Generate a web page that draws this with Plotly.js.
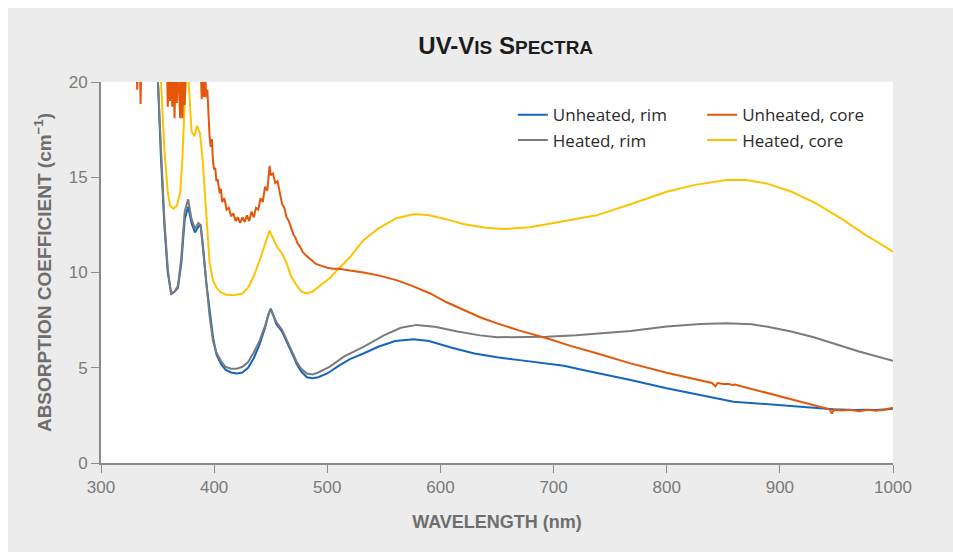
<!DOCTYPE html>
<html>
<head>
<meta charset="utf-8">
<script src="https://cdn.plot.ly/plotly-3.0.1.min.js"></script>
<style>html,body{margin:0;padding:0;background:#fff;}#chart{width:953px;height:552px;}</style>
</head>
<body>
<div id="chart"></div>
<script>
// Unheated, rim (blue)
const wlUnheatedRim = [345,350,353,356,359,362,365,368,371,374,377,380,383,386,388,390,393,396,399,402,406,410,415,420,425,430,435,440,445,448,450,452,455,460,465,470,473,477,482,487,492,500,510,520,532,545,560,576,590,610,630,650,670,690,709,725,741,768,800,830,859,947,955,965,975,985,995,1000];
const absUnheatedRim = [25,20.5,16,12.5,10,8.9,9.0,9.2,10.5,12.8,13.45,12.6,12.1,12.4,12.5,11.5,9.5,7.9,6.6,5.7,5.2,4.9,4.75,4.7,4.75,5.0,5.5,6.2,7.1,7.8,8.1,7.8,7.3,6.9,6.2,5.6,5.2,4.8,4.5,4.45,4.5,4.7,5.1,5.45,5.75,6.1,6.4,6.5,6.4,6.05,5.75,5.55,5.4,5.25,5.1,4.9,4.7,4.36,3.92,3.55,3.22,2.82,2.8,2.78,2.8,2.78,2.82,2.85];

// Heated, rim (gray)
const wlHeatedRim = [345,350,353,356,359,362,365,368,371,374,377,380,383,386,388,390,393,396,399,402,406,410,415,420,425,430,435,440,445,448,450,452,455,460,465,470,473,477,482,487,492,502,515,532,550,565,579,595,615,635,650,670,694,720,741,768,800,830,853,875,888,910,930,947,970,1000];
const absHeatedRim = [25,20.5,16.5,12.8,10.2,8.85,9.0,9.3,10.8,13.2,13.85,12.8,12.3,12.6,12.5,11.3,9.2,7.7,6.4,5.8,5.35,5.05,4.95,4.95,5.05,5.3,5.8,6.4,7.2,7.8,8.05,7.8,7.4,7.0,6.3,5.7,5.3,4.95,4.7,4.65,4.75,5.05,5.6,6.1,6.7,7.1,7.25,7.15,6.9,6.7,6.6,6.6,6.63,6.7,6.8,6.93,7.16,7.3,7.33,7.28,7.16,6.9,6.6,6.28,5.85,5.37];

// Unheated, core (orange)
const wlUnheatedCore = [331,332,333,334,335,336,340,350,358,359,360,361,362,363,364,365,366,367,368,369,370,371,372,373,374,375,380,388,389,390,391,392,393,394,395,396,397,398,399,400,401,402,403,405,406,407,409,411,413,415,417,419,421,423,425,427,429,431,433,435,437,439,441,443,445,447,449,450,452,454,456,458,460,462,464,466,468,470,472,474,476,478,481,484,487,490,495,500,505,510,520,532,545,561,575,591,605,620,635,650,670,694,715,738,768,800,820,840,843,845,850,855,858,860,944,946,948,955,962,970,978,985,992,997,1000];
const absUnheatedCore = [22,19.6,22,22,18.85,22,23,22,22,18.7,21,19,21.5,18.7,21,18.1,21,18.9,21,19.8,18.1,21,18.1,20.5,18.8,21,22,21,19.1,20.5,19.2,20.6,19.2,19.6,17.8,17.1,16.6,17.0,15.8,15.4,15.5,14.8,14.9,14.15,14.4,13.7,13.9,13.3,13.4,12.95,13.1,12.7,12.9,12.6,12.9,12.65,13.0,12.7,13.2,12.9,13.4,13.3,13.9,13.7,14.5,14.3,15.6,15.1,15.2,14.7,14.8,14.2,13.6,13.4,12.9,12.7,12.3,12.0,11.8,11.5,11.35,11.1,10.9,10.75,10.6,10.45,10.35,10.25,10.2,10.2,10.1,10.0,9.85,9.6,9.3,8.9,8.45,8.03,7.65,7.33,6.95,6.55,6.15,5.76,5.23,4.74,4.45,4.2,4.02,4.2,4.15,4.15,4.1,4.12,2.82,2.6,2.8,2.75,2.8,2.72,2.8,2.74,2.8,2.85,2.9];

// Heated, core (yellow)
const wlHeatedCore = [348,353,356,359,361,364,367,370,372,374,376,378,380,382.5,385,387.5,390,392,394,396,399,402,406,410,417,425,430,435,440,445,449,452,456,460,464,468,472,477,482,487,493,502,510,520,532,545,561,577,590,605,620,640,656,679,700,720,738,768,800,825,853,870,888,910,932,955,975,1000];
const absHeatedCore = [26,20,16.5,14.2,13.5,13.35,13.5,14.2,16,19,21,19.5,17.4,17.15,17.7,17.3,15.8,14,12,10.5,9.6,9.2,8.95,8.85,8.8,8.9,9.2,9.8,10.6,11.5,12.2,11.8,11.3,11.0,10.5,9.8,9.4,9.0,8.9,9.0,9.3,9.7,10.2,10.8,11.7,12.3,12.85,13.07,13.0,12.8,12.55,12.35,12.28,12.37,12.6,12.8,13.0,13.58,14.24,14.6,14.86,14.85,14.68,14.25,13.63,12.8,12.0,11.1];

const xTicks = [300,400,500,600,700,800,900,1000];
const yTicks = [0,5,10,15,20];

const tickFont = {family: 'Liberation Sans Narrow, Liberation Sans, Arial, sans-serif', size: 17, color: '#7a7a7a'};
const titleFont = {family: 'Liberation Sans Narrow, Liberation Sans, Arial, sans-serif', size: 18, color: '#6e6e6e'};

const traces = [
  {x: wlUnheatedRim, y: absUnheatedRim, name: 'Unheated, rim', type: 'scatter', mode: 'lines', line: {color: '#1565c0', width: 2}, legend: 'legend'},
  {x: wlHeatedRim, y: absHeatedRim, name: 'Heated, rim', type: 'scatter', mode: 'lines', line: {color: '#7b7b7b', width: 2}, legend: 'legend'},
  {x: wlHeatedCore, y: absHeatedCore, name: 'Heated, core', type: 'scatter', mode: 'lines', line: {color: '#fcc400', width: 2}, legend: 'legend2'},
  {x: wlUnheatedCore, y: absUnheatedCore, name: 'Unheated, core', type: 'scatter', mode: 'lines', line: {color: '#e4570b', width: 2}, legend: 'legend2'}
];

const legendFont = {family: 'Open Sans, sans-serif', size: 17, color: '#2b2b2b'};

const layout = {
  width: 953, height: 552,
  paper_bgcolor: '#ececec',
  plot_bgcolor: '#ffffff',
  margin: {l: 101, r: 60, t: 82, b: 89, pad: 0},
  title: {
    text: "<b>UV-V<span style='font-size:19px'>IS</span> S<span style='font-size:19px'>PECTRA</span></b>",
    font: {family: 'Liberation Sans Narrow, Liberation Sans, Arial, sans-serif', size: 24, color: '#1c1c1c'},
    x: 0.511, xanchor: 'center', xref: 'paper',
    y: 1 - 46/552, yanchor: 'middle', yref: 'container'
  },
  xaxis: {
    range: [300, 1000], tickvals: xTicks, ticktext: xTicks.map(String),
    showgrid: false, zeroline: false, showline: true, linecolor: '#8a8a8a', linewidth: 2,
    ticks: 'outside', ticklen: 8, tickwidth: 1, tickcolor: '#8a8a8a',
    tickfont: tickFont,
    title: {text: '<b>WAVELENGTH (nm)</b>', font: titleFont, standoff: 19}
  },
  yaxis: {
    range: [0, 20], tickvals: yTicks, ticktext: yTicks.map(String),
    showgrid: false, zeroline: false, showline: true, linecolor: '#8a8a8a', linewidth: 2,
    ticks: 'outside', ticklen: 8, tickwidth: 1, tickcolor: '#8a8a8a',
    tickfont: tickFont,
    title: {text: '<b>ABSORPTION COEFFICIENT (cm<sup>−1</sup>)</b>', font: {family: titleFont.family, size: 19, color: titleFont.color}, standoff: 12}
  },
  legend: {
    x: 0.52, xanchor: 'left', y: 0.96, yanchor: 'top',
    bgcolor: 'rgba(0,0,0,0)', font: legendFont, tracegroupgap: 0, traceorder: 'normal'
  },
  legend2: {
    x: 0.759, xanchor: 'left', y: 0.96, yanchor: 'top',
    bgcolor: 'rgba(0,0,0,0)', font: legendFont, tracegroupgap: 0, traceorder: 'reversed'
  },
  shapes: [
    {type: 'rect', xref: 'paper', yref: 'paper', x0: -101/792, x1: (953-101)/792, y0: 1 + 74/381, y1: 1 + 90/381, fillcolor: '#ffffff', line: {width: 0}, layer: 'above'},
    {type: 'rect', xref: 'paper', yref: 'paper', x0: -101/792 - 0.01, x1: -93/792, y0: -89/381 - 0.05, y1: 1 + 90/381, fillcolor: '#ffffff', line: {width: 0}, layer: 'above'}
  ],
  showlegend: true
};

Plotly.newPlot('chart', traces, layout, {displayModeBar: false, staticPlot: true});
</script>
</body>
</html>
